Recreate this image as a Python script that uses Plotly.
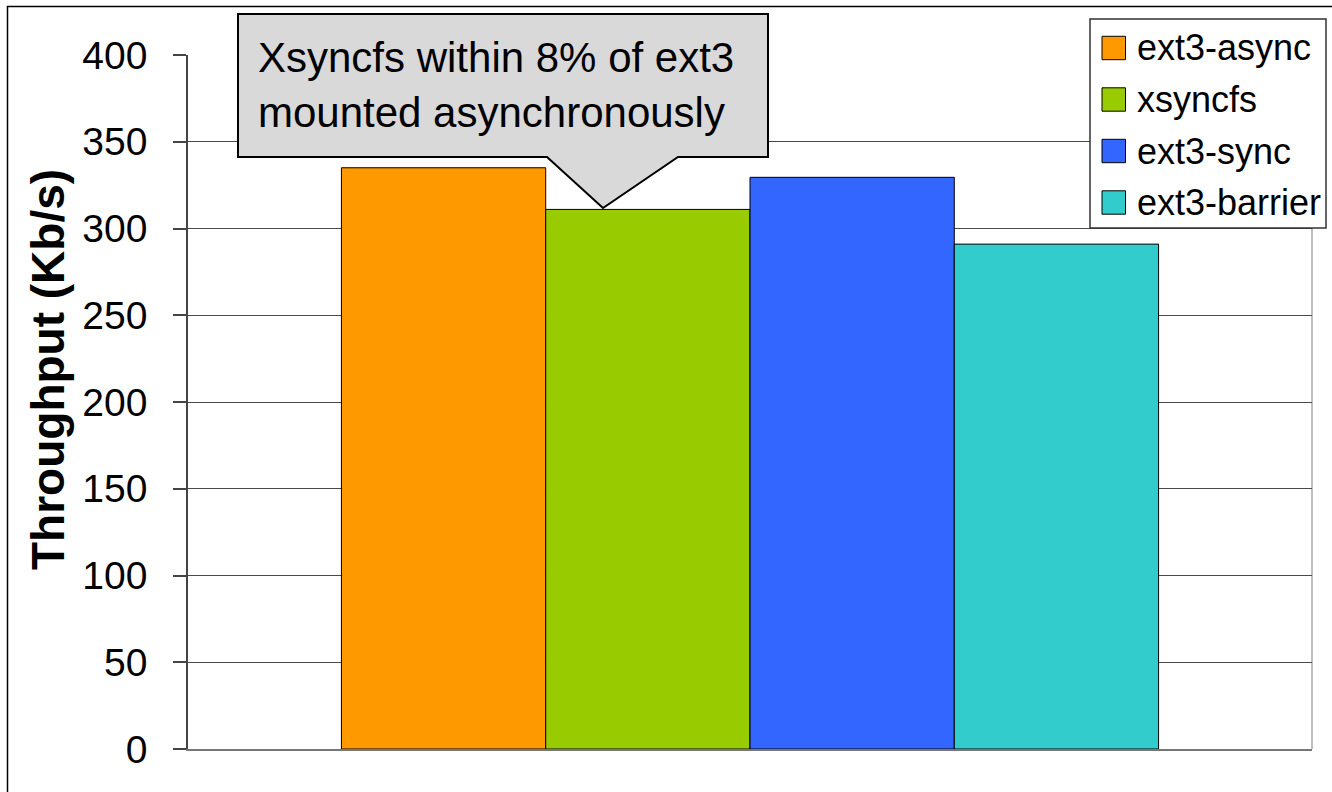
import plotly.graph_objects as go

# ---- data ----
categories = [""]
series_names = ["ext3-async", "xsyncfs", "ext3-sync", "ext3-barrier"]
series_values = [335, 311, 329.5, 291]
series_colors = ["#FF9900", "#99CC00", "#3366FF", "#33CCCC"]
y_ticks = [0, 50, 100, 150, 200, 250, 300, 350, 400]
callout_text = "Xsyncfs within 8% of ext3<br>mounted asynchronously"
y_title = "Throughput (Kb/s)"

# ---- layout geometry (pixels) ----
FW, FH = 1332, 792
L, R, T, B = 188, 20, 55, 43
PW, PH = FW - L - R, FH - T - B


def px(x):
    return (x - L) / PW


def py(y):
    return (FH - B - y) / PH


FONT = "Liberation Sans, Arial, sans-serif"

fig = go.Figure()
for name, val, col in zip(series_names, series_values, series_colors):
    fig.add_trace(go.Bar(
        x=categories, y=[val], name=name,
        marker=dict(color=col, line=dict(color="#000000", width=1)),
        showlegend=False,
    ))

shapes = []
annotations = []

# outer border
shapes.append(dict(type="rect", xref="paper", yref="paper",
                   x0=px(7.5), x1=px(1345), y0=py(6.5), y1=py(800),
                   line=dict(color="#000000", width=1.5), layer="above"))
# right plot border
shapes.append(dict(type="line", xref="paper", yref="paper",
                   x0=1, x1=1, y0=0, y1=1,
                   line=dict(color="#aaaaaa", width=1.5), layer="below"))

# callout
cx0, cx1, cy0, cy1 = 238, 768, 14, 157
p_left, p_tip, p_right, tip_y = 547, 603, 678, 208
pts = [(cx0, cy0), (cx1, cy0), (cx1, cy1), (p_right, cy1), (p_tip, tip_y),
       (p_left, cy1), (cx0, cy1)]
path = "M " + " L ".join(f"{px(a):.5f},{py(b):.5f}" for a, b in pts) + " Z"
shapes.append(dict(type="path", xref="paper", yref="paper", path=path,
                   fillcolor="#D9D9D9", line=dict(color="#000000", width=2),
                   layer="above"))
annotations.append(dict(xref="paper", yref="paper", x=px(256), y=py(85),
                        xanchor="left", yanchor="middle", align="left",
                        text=callout_text, showarrow=False,
                        font=dict(family=FONT, size=42, color="#000000")))

# legend (built from series lists)
lx0, lx1, ly0, ly1 = 1090, 1326, 19, 228
shapes.append(dict(type="rect", xref="paper", yref="paper",
                   x0=px(lx0), x1=px(lx1), y0=py(ly0), y1=py(ly1),
                   fillcolor="#FFFFFF", line=dict(color="#333333", width=1.5),
                   layer="above"))
row_centers = [48, 99.5, 151, 202.5]
for name, col, yc in zip(series_names, series_colors, row_centers):
    shapes.append(dict(type="rect", xref="paper", yref="paper",
                       x0=px(1102), x1=px(1125.5), y0=py(yc - 11.7), y1=py(yc + 11.7),
                       fillcolor=col, line=dict(color="#000000", width=1),
                       layer="above"))
    annotations.append(dict(xref="paper", yref="paper", x=px(1135), y=py(yc),
                            xanchor="left", yanchor="middle", text=name,
                            showarrow=False,
                            font=dict(family=FONT, size=36, color="#000000")))

# y-axis title
annotations.append(dict(xref="paper", yref="paper", x=px(48), y=py(370),
                        xanchor="center", yanchor="middle", textangle=-90,
                        text=f"<b>{y_title}</b>", showarrow=False,
                        font=dict(family=FONT, size=46, color="#000000")))

fig.update_layout(
    width=FW, height=FH,
    margin=dict(l=L, r=R, t=T, b=B, pad=0),
    paper_bgcolor="#FFFFFF", plot_bgcolor="#FFFFFF",
    barmode="group", bargap=0.273, bargroupgap=0,
    showlegend=False,
    shapes=shapes, annotations=annotations,
    xaxis=dict(showticklabels=False, showgrid=False, zeroline=False,
               showline=True, linecolor="#777777", linewidth=1.5,
               range=[-0.5, 0.5], fixedrange=True),
    yaxis=dict(range=[0, 400], tickvals=y_ticks,
               ticktext=[str(v) for v in y_ticks],
               showgrid=True, gridcolor="#4a4a4a", gridwidth=1,
               zeroline=False, showline=True, linecolor="#444444", linewidth=1.5,
               ticks="outside", ticklen=13, tickcolor="#444444", tickwidth=1.5,
               ticklabelstandoff=18,
               tickfont=dict(family=FONT, size=39, color="#000000")),
    font=dict(family=FONT, color="#000000"),
)

fig.write_html("out.html")
